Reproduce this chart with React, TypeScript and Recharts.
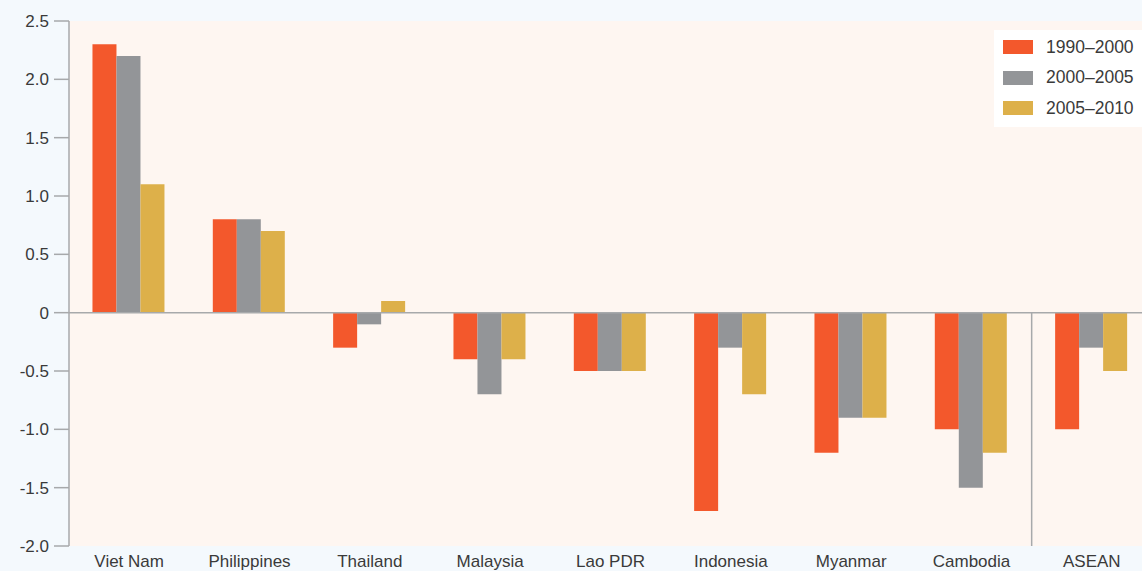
import { BarChart, Bar, XAxis, YAxis, CartesianGrid, ReferenceLine } from 'recharts';

const countries = ['Viet Nam', 'Philippines', 'Thailand', 'Malaysia', 'Lao PDR', 'Indonesia', 'Myanmar', 'Cambodia', 'ASEAN'];
const period1990 = [2.3, 0.8, -0.3, -0.4, -0.5, -1.7, -1.2, -1.0, -1.0];
const period2000 = [2.2, 0.8, -0.1, -0.7, -0.5, -0.3, -0.9, -1.5, -0.3];
const period2005 = [1.1, 0.7, 0.1, -0.4, -0.5, -0.7, -0.9, -1.2, -0.5];
const yTicks = [-2, -1.5, -1, -0.5, 0, 0.5, 1, 1.5, 2, 2.5];

const series = [
  { key: 'p1990', label: '1990–2000', color: '#f3582c' },
  { key: 'p2000', label: '2000–2005', color: '#939598' },
  { key: 'p2005', label: '2005–2010', color: '#ddb04a' },
];

const chartData = countries.map((name, i) => ({
  name,
  p1990: period1990[i],
  p2000: period2000[i],
  p2005: period2005[i],
}));

const font = '"Liberation Sans", Arial, sans-serif';
const axisGray = '#a7a9ab';
const textColor = '#3a3a3a';

export default function App() {
  return (
    <div
      style={{
        position: 'fixed',
        left: 0,
        top: 0,
        width: 1142,
        height: 571,
        overflow: 'hidden',
        background: '#f4f9fd',
        fontFamily: font,
      }}
    >
      <BarChart
        width={1152}
        height={571}
        data={chartData}
        margin={{ top: 21, right: 0, left: 0, bottom: 0 }}
        barCategoryGap="19.5%"
        barGap={0}
      >
        <CartesianGrid horizontal={false} vertical={false} fill="#fef6f1" />
        <XAxis
          dataKey="name"
          axisLine={false}
          tickLine={false}
          tickSize={0}
          tickMargin={9}
          height={25}
          interval={0}
          tick={{ fill: textColor, fontSize: 17, fontFamily: font }}
        />
        <YAxis
          domain={[-2, 2.5]}
          ticks={yTicks}
          width={69}
          interval={0}
          axisLine={{ stroke: axisGray, strokeWidth: 1.5 }}
          tickLine={{ stroke: axisGray, strokeWidth: 1.5 }}
          tickSize={15}
          tickMargin={5}
          tick={{ fill: textColor, fontSize: 17, fontFamily: font }}
          tickFormatter={(v: number) => (v === 0 ? '0' : v.toFixed(1))}
        />
        {series.map((s) => (
          <Bar key={s.key} dataKey={s.key} fill={s.color} isAnimationActive={false} />
        ))}
        <ReferenceLine y={0} stroke={axisGray} strokeWidth={1.5} />
        <ReferenceLine
          segment={[
            { x: 'ASEAN', y: 0 },
            { x: 'ASEAN', y: -2 },
          ]}
          position="start"
          stroke={axisGray}
          strokeWidth={1.5}
        />
      </BarChart>
      <div
        style={{
          position: 'absolute',
          left: 994,
          top: 30,
          width: 148,
          height: 97,
          background: '#ffffff',
          boxSizing: 'border-box',
          paddingTop: 2,
        }}
      >
        {series.map((s) => (
          <div key={s.key} style={{ display: 'flex', alignItems: 'center', height: 30.5, marginLeft: 9 }}>
            <span style={{ display: 'inline-block', width: 30, height: 14, background: s.color, marginRight: 13 }} />
            <span style={{ fontSize: 17.5, color: textColor }}>{s.label}</span>
          </div>
        ))}
      </div>
    </div>
  );
}
